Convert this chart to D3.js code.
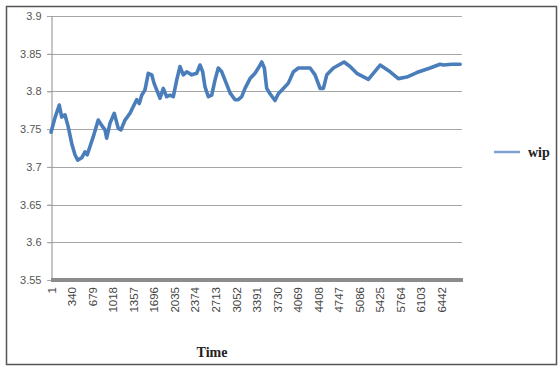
<!DOCTYPE html>
<html><head><meta charset="utf-8">
<script src="https://cdn.jsdelivr.net/npm/d3@7"></script>
<style>
body{margin:0;background:#fff;}
svg{display:block;}
</style></head>
<body>
<svg id="chart" width="558" height="367"></svg>
<script>
// ---- data ----
const seriesName = "wip";
const xTitle = "Time";
const nPoints = 6780;
const xTickLabels = [1,340,679,1018,1357,1696,2035,2374,2713,3052,3391,3730,4069,4408,4747,5086,5425,5764,6103,6442];
const yTickLabels = [3.55,3.6,3.65,3.7,3.75,3.8,3.85,3.9];
const times = [1,66,137,177,231,285,342,396,441,507,561,599,644,698,780,837,891,919,974,1044,1110,1155,1221,1304,1358,1414,1457,1497,1551,1605,1662,1700,1744,1799,1853,1909,1964,2018,2074,2129,2183,2239,2322,2404,2459,2503,2541,2596,2652,2706,2760,2817,2871,2954,3036,3090,3147,3201,3284,3366,3421,3477,3520,3559,3614,3696,3751,3834,3916,3999,4081,4164,4274,4356,4439,4494,4550,4659,4835,4934,5045,5236,5430,5595,5731,5870,6035,6254,6419,6474,6613,6750];
const wip = [3.746,3.765,3.782,3.766,3.769,3.753,3.731,3.716,3.709,3.712,3.720,3.716,3.727,3.740,3.762,3.755,3.749,3.738,3.758,3.771,3.751,3.749,3.762,3.771,3.780,3.789,3.784,3.795,3.802,3.824,3.822,3.811,3.802,3.791,3.804,3.793,3.795,3.793,3.815,3.833,3.822,3.826,3.822,3.824,3.835,3.826,3.806,3.793,3.795,3.815,3.831,3.826,3.815,3.798,3.789,3.789,3.793,3.804,3.817,3.824,3.831,3.839,3.831,3.804,3.797,3.788,3.797,3.804,3.811,3.826,3.831,3.831,3.831,3.822,3.804,3.804,3.822,3.831,3.839,3.833,3.824,3.816,3.835,3.826,3.817,3.819,3.825,3.831,3.836,3.835,3.836,3.836];

// ---- layout ----
const svg = d3.select("#chart");
const L = 51, R = 462, T = 16, B = 280;

svg.append("rect").attr("x",6.5).attr("y",6.5).attr("width",550).attr("height",358)
  .attr("fill","#fff").attr("stroke","#555").attr("stroke-width",1.5);

const x = d3.scaleLinear().domain([0.5, nPoints + 0.5]).range([L, R]);
const y = d3.scaleLinear().domain([3.55, 3.9]).range([B, T]);

// gridlines
svg.append("g").selectAll("line").data(yTickLabels.slice(1)).join("line")
  .attr("x1", L - 4).attr("x2", R)
  .attr("y1", d => Math.round(y(d)) + 0.5).attr("y2", d => Math.round(y(d)) + 0.5)
  .attr("stroke", "#a6a6a6").attr("stroke-width", 1);

// y axis
const yAxis = d3.axisLeft(y).tickValues(yTickLabels).tickSize(4).tickFormat(d => d3.format("")(+d.toFixed(2)));
const gy = svg.append("g").attr("transform", `translate(${L + 0.5},0)`).call(yAxis);
gy.select(".domain").attr("stroke", "#8c8c8c");
gy.selectAll(".tick line").attr("stroke", "#a6a6a6");
gy.selectAll(".tick text").attr("fill", "#555").attr("font-family", "Liberation Sans, Arial, sans-serif")
  .attr("font-size", 11).attr("x", -10);

// x axis (thick gray bar)
svg.append("line").attr("x1", L).attr("x2", R + 1).attr("y1", B).attr("y2", B)
  .attr("stroke", "#8c8c8c").attr("stroke-width", 4);

const xAxis = d3.axisBottom(x).tickValues(xTickLabels).tickSize(0).tickFormat(d => d);
const gx = svg.append("g").attr("transform", `translate(0,${B + 2})`).call(xAxis);
gx.select(".domain").remove();
gx.selectAll(".tick text")
  .attr("font-family", "Liberation Sans, Arial, sans-serif").attr("font-size", 11.5).attr("fill", "#444")
  .attr("transform", "rotate(-90)").attr("text-anchor", "end").attr("x", -5).attr("y", 0).attr("dy", "0.35em");

// line
const pts = times.map((t, i) => [t, wip[i]]);
svg.append("path").datum(pts)
  .attr("fill", "none").attr("stroke", "#4a7ebb").attr("stroke-width", 3.6)
  .attr("stroke-linejoin", "round").attr("stroke-linecap", "round")
  .attr("d", d3.line().x(d => x(d[0])).y(d => y(d[1])));

// x title
svg.append("text").attr("x", 212).attr("y", 357).attr("text-anchor", "middle")
  .attr("font-family", "Liberation Serif, Times New Roman, serif").attr("font-weight", "bold")
  .attr("font-size", 14).attr("fill", "#222").text(xTitle);

// legend
svg.append("line").attr("x1", 494).attr("x2", 520).attr("y1", 152).attr("y2", 152)
  .attr("stroke", "#7da2d0").attr("stroke-width", 2.5);
svg.append("text").attr("x", 528).attr("y", 157).attr("font-family", "Liberation Serif, Times New Roman, serif")
  .attr("font-weight", "bold").attr("font-size", 14).attr("fill", "#222").text(seriesName);
</script>
</body></html>
